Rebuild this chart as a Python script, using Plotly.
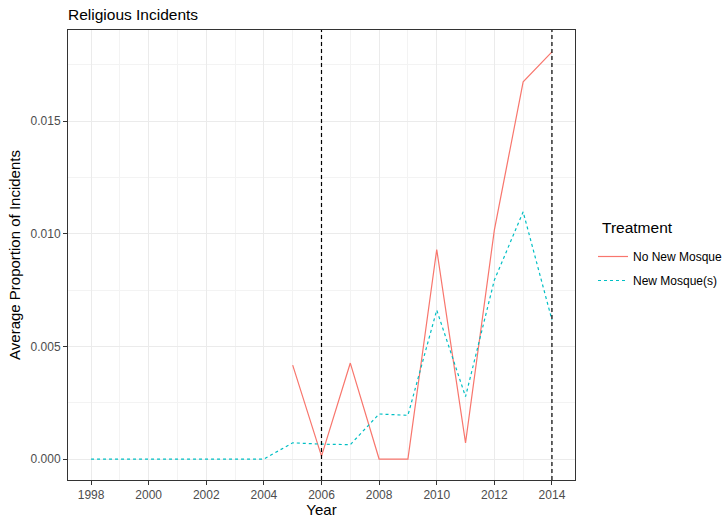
import plotly.graph_objects as go

# Yearly averages by treatment group
years = list(range(1998, 2015))
no_new_mosque = [None, None, None, None, None, None, None,
                 0.00417, 0.00013, 0.00426, 0.0, 0.0, 0.0093,
                 0.00072, 0.01016, 0.01674, 0.01807]
new_mosques = [0.0, 0.0, 0.0, 0.0, 0.0, 0.0, 0.0,
               0.00072, 0.00066, 0.00064, 0.0020, 0.00194, 0.00661,
               0.00277, 0.00794, 0.01097, 0.00617]
series_names = ["No New Mosque", "New Mosque(s)"]
ref_years = [2006, 2014]

FONT = "Liberation Sans, Arial, sans-serif"

fig = go.Figure()
fig.add_trace(go.Scatter(
    x=years, y=no_new_mosque, mode="lines", name=series_names[0],
    legendgroup="a", line=dict(color="#F8766D", width=1.2), connectgaps=False))
fig.add_trace(go.Scatter(
    x=years, y=new_mosques, mode="lines", name=series_names[1],
    legendgroup="b", line=dict(color="#00BFC4", width=1.2, dash="3px,3px")))

for yr in ref_years:
    fig.add_vline(x=yr, line=dict(color="black", width=1.2, dash="4px,3px"))

axis_common = dict(
    showline=True, linecolor="#333333", linewidth=1, mirror=True,
    ticks="outside", ticklen=4, tickcolor="#333333", tickwidth=1,
    tickfont=dict(family=FONT, size=12, color="#4D4D4D"),
    gridcolor="#EBEBEB", gridwidth=1, zeroline=False,
)

# legend heading drawn as its own text so the key spacing can be set freely
fig.add_annotation(
    text="Treatment", xref="paper", yref="paper",
    x=(600 - 68) / 507, y=(480 - 228) / 450, xanchor="left", yanchor="middle",
    showarrow=False, font=dict(family=FONT, size=15.5, color="black"))

fig.update_layout(
    width=726, height=518,
    margin=dict(l=68, r=151, t=30, b=38, autoexpand=False),
    paper_bgcolor="white", plot_bgcolor="white",
    title=dict(text="Religious Incidents", x=68 / 726, xanchor="left",
               y=1 - 15 / 518, yanchor="middle",
               font=dict(family=FONT, size=15.5, color="black")),
    xaxis=dict(
        range=[1997.2, 2014.8], tick0=1998, dtick=2,
        minor=dict(dtick=1, showgrid=True, gridcolor="#F3F3F3", gridwidth=1),
        title=dict(text="Year", font=dict(family=FONT, size=15, color="black"),
                   standoff=4),
        **axis_common),
    yaxis=dict(
        range=[-0.00093, 0.01904], tick0=0, dtick=0.005, tickformat=".3f",
        minor=dict(dtick=0.0025, showgrid=True, gridcolor="#F3F3F3", gridwidth=1),
        title=dict(text="Average Proportion of Incidents",
                   font=dict(family=FONT, size=15, color="black"), standoff=6),
        **axis_common),
    legend=dict(
        font=dict(family=FONT, size=12, color="black"),
        x=(593 - 68) / 507, xanchor="left", y=(480 - 242) / 450, yanchor="top",
        traceorder="grouped", itemwidth=30, tracegroupgap=5,
        bgcolor="rgba(0,0,0,0)"),
)

fig.write_html("out.html")
